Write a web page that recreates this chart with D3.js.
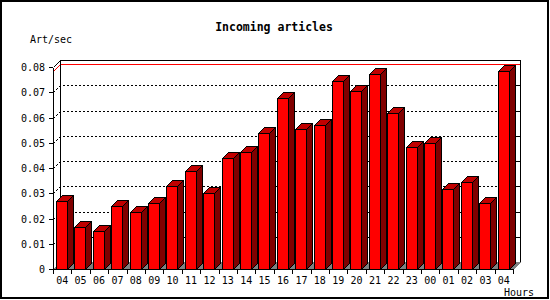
<!DOCTYPE html>
<html>
<head>
<meta charset="utf-8">
<script src="https://cdn.jsdelivr.net/npm/d3@7"></script>
<style>
  body { margin: 0; background: #fff; }
  text { font-family: "DejaVu Sans Mono", "Liberation Mono", monospace; font-size: 10px; fill: #000; }
</style>
</head>
<body>
<div id="chart"></div>
<script>
// hour labels along the x axis
var hours = ["04", "05", "06", "07", "08", "09", "10", "11", "12", "13", "14", "15", "16",
    "17", "18", "19", "20", "21", "22", "23", "00", "01", "02", "03", "04"];

// incoming articles per second for each hour
var rates = [0.0269, 0.0166, 0.0150, 0.0249, 0.0226, 0.0260, 0.0327, 0.0388, 0.0300, 0.0438,
    0.0462, 0.0537, 0.0676, 0.0553, 0.0569, 0.0743, 0.0704, 0.0771, 0.0617, 0.0482,
    0.0498, 0.0316, 0.0343, 0.0260, 0.0784];

var yTicks = [0, 0.01, 0.02, 0.03, 0.04, 0.05, 0.06, 0.07, 0.08];

var svgWidth = 550;
var svgHeight = 300;

// front plane of the plot, the back plane sits "depth" px up and right
// (note: "top" is a reserved window property, so plot* names)
var plotLeft = 53, plotRight = 513, plotBottom = 269, plotTop = 67;
var depth = 7;
var barDepth = 6;

var svg = d3.select("#chart")
    .append("svg")
    .attr("width", svgWidth)
    .attr("height", svgHeight)
    .attr("shape-rendering", "crispEdges");

svg.append("rect")
    .attr("width", svgWidth)
    .attr("height", svgHeight)
    .attr("fill", "#fff");

// outer frame
svg.append("rect")
    .attr("x", 1).attr("y", 1)
    .attr("width", 547).attr("height", 297)
    .attr("fill", "none")
    .attr("stroke", "#000")
    .attr("stroke-width", 2);

var xScale = d3.scaleBand()
    .domain(d3.range(hours.length))
    .range([plotLeft, plotRight])
    .paddingInner(0);

var yScale = d3.scaleLinear()
    .domain([0, 0.08])
    .range([plotBottom, plotTop]);

// y on the back plane
function yBack(v) {
    return yScale(v) - depth;
}

function px(v) {
    return Math.round(v) + 0.5;
}

// floor
svg.append("polygon")
    .attr("points", [[plotLeft, plotBottom], [plotLeft + depth, plotBottom - depth],
        [plotRight + depth, plotBottom - depth], [plotRight, plotBottom]].join(" "))
    .attr("fill", "#808080")
    .attr("stroke", "none");

// dotted grid lines on the back wall, with the little diagonal from the front axis
var grid = yTicks.filter(d => d > 0 && d < 0.08);
svg.selectAll(".grid")
    .data(grid)
    .enter()
    .append("polyline")
    .attr("class", "grid")
    .attr("points", d => [[plotLeft + 0.5, px(yScale(d))], [plotLeft + depth + 0.5, px(yBack(d))],
        [plotRight + depth, px(yBack(d))]].join(" "))
    .attr("fill", "none")
    .attr("stroke", "#000")
    .attr("stroke-dasharray", "2,2");

// right hand ticks on the back wall
svg.selectAll(".rtick")
    .data(grid)
    .enter()
    .append("line")
    .attr("x1", plotRight + depth - 3)
    .attr("x2", plotRight + depth)
    .attr("y1", d => px(yBack(d)))
    .attr("y2", d => px(yBack(d)))
    .attr("stroke", "#000");

// red line at the max value
var maxRate = d3.max(rates);
svg.append("polyline")
    .attr("points", [[plotLeft + 0.5, px(yScale(maxRate))], [plotLeft + depth + 0.5, px(yBack(maxRate))],
        [plotRight + depth, px(yBack(maxRate))]].join(" "))
    .attr("fill", "none")
    .attr("stroke", "#ff0000");

// back wall frame
svg.append("polyline")
    .attr("points", [[plotLeft + depth + 0.5, plotBottom - depth], [plotLeft + depth + 0.5, px(yBack(0.08))],
        [plotRight + depth + 0.5, px(yBack(0.08))], [plotRight + depth + 0.5, plotBottom - depth]].join(" "))
    .attr("fill", "none")
    .attr("stroke", "#000");

svg.append("line")
    .attr("x1", plotLeft + 0.5).attr("y1", px(yScale(0.08)))
    .attr("x2", plotLeft + depth + 0.5).attr("y2", px(yBack(0.08)))
    .attr("stroke", "#000");

svg.append("line")
    .attr("x1", plotRight + 0.5).attr("y1", plotBottom + 0.5)
    .attr("x2", plotRight + depth + 0.5).attr("y2", plotBottom - depth + 0.5)
    .attr("stroke", "#808080");

// 3D bars
var bars = svg.selectAll(".bar")
    .data(rates)
    .enter()
    .append("g")
    .attr("class", "bar");

function barX(i) {
    return Math.round(xScale(i)) + 3.5;
}
var barW = 11;

// side face
bars.append("polygon")
    .attr("points", (d, i) => {
        var x1 = barX(i) + barW, yt = px(yScale(d));
        return [[x1, yt], [x1 + barDepth, yt - barDepth], [x1 + barDepth, plotBottom + 0.5 - barDepth],
            [x1, plotBottom + 0.5]].join(" ");
    })
    .attr("fill", "#800000")
    .attr("stroke", "#000");

// top face
bars.append("polygon")
    .attr("points", (d, i) => {
        var x0 = barX(i), x1 = x0 + barW, yt = px(yScale(d));
        return [[x0, yt], [x0 + barDepth, yt - barDepth], [x1 + barDepth, yt - barDepth],
            [x1, yt]].join(" ");
    })
    .attr("fill", "#c00000")
    .attr("stroke", "#000");

// front face
bars.append("rect")
    .attr("x", (d, i) => barX(i))
    .attr("y", d => px(yScale(d)))
    .attr("width", barW)
    .attr("height", d => plotBottom + 0.5 - px(yScale(d)))
    .attr("fill", "#ff0000")
    .attr("stroke", "#000");

// front axes
svg.append("line")
    .attr("x1", plotLeft + 0.5).attr("x2", plotLeft + 0.5)
    .attr("y1", px(yScale(0.08))).attr("y2", plotBottom + 0.5)
    .attr("stroke", "#000");

svg.append("line")
    .attr("x1", plotLeft).attr("x2", plotRight + 1)
    .attr("y1", plotBottom + 0.5).attr("y2", plotBottom + 0.5)
    .attr("stroke", "#000");

// y ticks and labels
svg.selectAll(".ytick")
    .data(yTicks)
    .enter()
    .append("line")
    .attr("x1", plotLeft - 4).attr("x2", plotLeft)
    .attr("y1", d => px(yScale(d)))
    .attr("y2", d => px(yScale(d)))
    .attr("stroke", "#000");

svg.selectAll(".ylabel")
    .data(yTicks)
    .enter()
    .append("text")
    .attr("x", plotLeft - 8)
    .attr("y", d => yScale(d) + 4)
    .attr("text-anchor", "end")
    .text(d => d === 0 ? "0" : d.toFixed(2));

// x ticks at slot edges and hour labels
svg.selectAll(".xtick")
    .data(d3.range(hours.length + 1))
    .enter()
    .append("line")
    .attr("x1", i => px(i < hours.length ? xScale(i) : plotRight))
    .attr("x2", i => px(i < hours.length ? xScale(i) : plotRight))
    .attr("y1", plotBottom)
    .attr("y2", plotBottom + 5)
    .attr("stroke", "#000");

svg.selectAll(".xlabel")
    .data(hours)
    .enter()
    .append("text")
    .attr("x", (d, i) => xScale(i) + xScale.bandwidth() / 2)
    .attr("y", plotBottom + 15)
    .attr("text-anchor", "middle")
    .text(d => d);

// titles
svg.append("text")
    .attr("x", 274)
    .attr("y", 31)
    .attr("text-anchor", "middle")
    .style("font-size", "11.5px")
    .style("font-weight", "bold")
    .text("Incoming articles");

svg.append("text")
    .attr("x", 30)
    .attr("y", 43)
    .text("Art/sec");

svg.append("text")
    .attr("x", 504)
    .attr("y", 296)
    .text("Hours");
</script>
</body>
</html>
